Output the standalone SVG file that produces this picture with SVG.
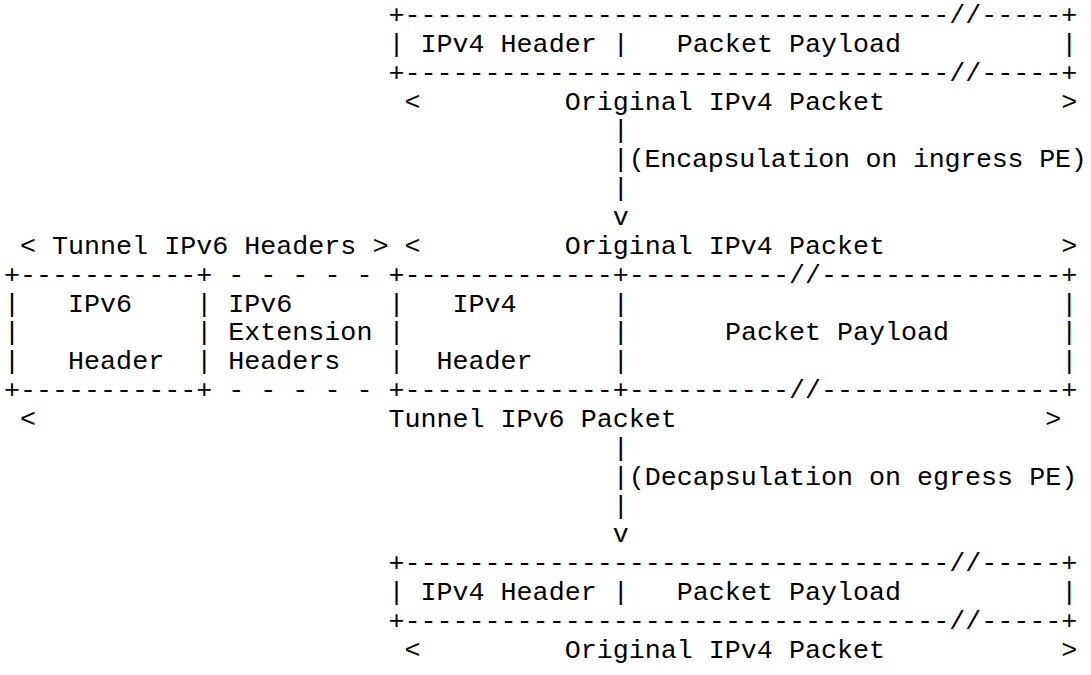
<svg xmlns="http://www.w3.org/2000/svg" width="1091" height="675" viewBox="0 0 1091 675">
<style>
text { font-family: "Liberation Mono", "Courier New", monospace; font-size: 26.7px; fill: #000; white-space: pre; }
</style>
<rect width="1091" height="675" fill="#fff"/>
<g id="pkt-top">
<text y="23"><tspan x="388.48">+</tspan><tspan x="404.5">----------</tspan><tspan x="564.7">----------</tspan><tspan x="724.9">----------</tspan><tspan x="885.1">----</tspan><tspan x="949.18">//</tspan><tspan x="981.22">-----</tspan><tspan x="1061.32">+</tspan></text>
<text y="51.86"><tspan x="388.48">|</tspan><tspan x="420.52">IPv4 Header</tspan><tspan x="612.76">|</tspan><tspan x="676.84">Packet Payload</tspan><tspan x="1061.32">|</tspan></text>
<text y="80.72"><tspan x="388.48">+</tspan><tspan x="404.5">----------</tspan><tspan x="564.7">----------</tspan><tspan x="724.9">----------</tspan><tspan x="885.1">----</tspan><tspan x="949.18">//</tspan><tspan x="981.22">-----</tspan><tspan x="1061.32">+</tspan></text>
<text y="109.58"><tspan x="404.5">&lt;</tspan><tspan x="564.7">Original IPv4 Packet</tspan><tspan x="1061.32">&gt;</tspan></text>
</g>
<g id="pkt-tunnel">
<text y="253.88"><tspan x="20.02">&lt;</tspan><tspan x="52.06">Tunnel IPv6 Headers</tspan><tspan x="372.46">&gt;</tspan><tspan x="404.5">&lt;</tspan><tspan x="564.7">Original IPv4 Packet</tspan><tspan x="1061.32">&gt;</tspan></text>
<text y="282.74"><tspan x="4">+</tspan><tspan x="20.02">----------</tspan><tspan x="180.22">-</tspan><tspan x="196.24">+</tspan><tspan x="228.28">-</tspan><tspan x="260.32">-</tspan><tspan x="292.36">-</tspan><tspan x="324.4">-</tspan><tspan x="356.44">-</tspan><tspan x="388.48">+</tspan><tspan x="404.5">----------</tspan><tspan x="564.7">---</tspan><tspan x="612.76">+</tspan><tspan x="628.78">----------</tspan><tspan x="788.98">//</tspan><tspan x="821.02">----------</tspan><tspan x="981.22">-----</tspan><tspan x="1061.32">+</tspan></text>
<text y="311.6"><tspan x="4">|</tspan><tspan x="68.08">IPv6</tspan><tspan x="196.24">|</tspan><tspan x="228.28">IPv6</tspan><tspan x="388.48">|</tspan><tspan x="452.56">IPv4</tspan><tspan x="612.76">|</tspan><tspan x="1061.32">|</tspan></text>
<text y="340.46"><tspan x="4">|</tspan><tspan x="196.24">|</tspan><tspan x="228.28">Extension</tspan><tspan x="388.48">|</tspan><tspan x="612.76">|</tspan><tspan x="724.9">Packet Payload</tspan><tspan x="1061.32">|</tspan></text>
<text y="369.32"><tspan x="4">|</tspan><tspan x="68.08">Header</tspan><tspan x="196.24">|</tspan><tspan x="228.28">Headers</tspan><tspan x="388.48">|</tspan><tspan x="436.54">Header</tspan><tspan x="612.76">|</tspan><tspan x="1061.32">|</tspan></text>
<text y="398.18"><tspan x="4">+</tspan><tspan x="20.02">----------</tspan><tspan x="180.22">-</tspan><tspan x="196.24">+</tspan><tspan x="228.28">-</tspan><tspan x="260.32">-</tspan><tspan x="292.36">-</tspan><tspan x="324.4">-</tspan><tspan x="356.44">-</tspan><tspan x="388.48">+</tspan><tspan x="404.5">----------</tspan><tspan x="564.7">---</tspan><tspan x="612.76">+</tspan><tspan x="628.78">----------</tspan><tspan x="788.98">//</tspan><tspan x="821.02">----------</tspan><tspan x="981.22">-----</tspan><tspan x="1061.32">+</tspan></text>
<text y="427.04"><tspan x="20.02">&lt;</tspan><tspan x="388.48">Tunnel IPv6 Packet</tspan><tspan x="1045.3">&gt;</tspan></text>
</g>
<g id="pkt-bottom">
<text y="571.34"><tspan x="388.48">+</tspan><tspan x="404.5">----------</tspan><tspan x="564.7">----------</tspan><tspan x="724.9">----------</tspan><tspan x="885.1">----</tspan><tspan x="949.18">//</tspan><tspan x="981.22">-----</tspan><tspan x="1061.32">+</tspan></text>
<text y="600.2"><tspan x="388.48">|</tspan><tspan x="420.52">IPv4 Header</tspan><tspan x="612.76">|</tspan><tspan x="676.84">Packet Payload</tspan><tspan x="1061.32">|</tspan></text>
<text y="629.06"><tspan x="388.48">+</tspan><tspan x="404.5">----------</tspan><tspan x="564.7">----------</tspan><tspan x="724.9">----------</tspan><tspan x="885.1">----</tspan><tspan x="949.18">//</tspan><tspan x="981.22">-----</tspan><tspan x="1061.32">+</tspan></text>
<text y="657.92"><tspan x="404.5">&lt;</tspan><tspan x="564.7">Original IPv4 Packet</tspan><tspan x="1061.32">&gt;</tspan></text>
</g>
<g id="connectors">
<g id="encap-arrow">
<text x="612.76" y="138.44">|</text>
<text x="612.76" y="167.3">|</text>
<text x="612.76" y="196.16">|</text>
<text x="612.76" y="225.02">v</text>
<text x="628.78" y="167.3" textLength="458" lengthAdjust="spacing">(Encapsulation on ingress PE)</text>
</g>
<g id="decap-arrow">
<text x="612.76" y="455.9">|</text>
<text x="612.76" y="484.76">|</text>
<text x="612.76" y="513.62">|</text>
<text x="612.76" y="542.48">v</text>
<text x="628.78" y="484.76">(Decapsulation on egress PE)</text>
</g>
</g>
</svg>
